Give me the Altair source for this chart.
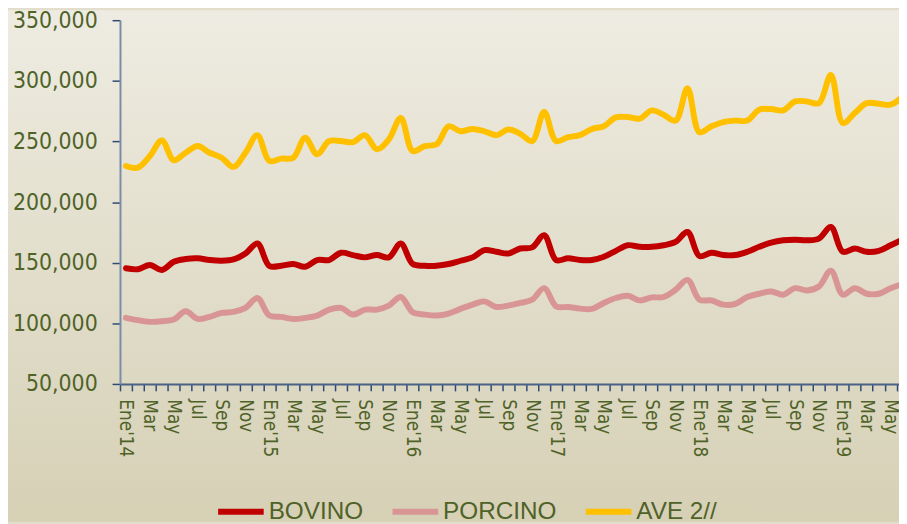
import json
import pandas as pd
import altair as alt

# ---------------- data ----------------
series_names = ["BOVINO", "PORCINO", "AVE 2//"]
series_colors = ["#C00000", "#D99594", "#FFC000"]

month_names = ["Ene", "Feb", "Mar", "Abr", "May", "Jun", "Jul", "Ago", "Sep", "Oct", "Nov", "Dic"]
years = ["14", "15", "16", "17", "18", "19"]

bovino = [145400, 144600, 148100, 144000, 150800, 153000, 153600, 152200, 151600, 152700, 157600, 165800,
          147300, 147500, 148900, 146700, 152200, 152200, 158200, 156300, 154400, 156300, 154400, 165800,
          148900, 147500, 147500, 148900, 151600, 154400, 160300, 159000, 157600, 161700, 162600, 172600,
          152200, 153600, 152200, 152200, 154900, 159800, 164400, 163100, 163100, 164400, 167100, 175300,
          155400, 158200, 156300, 156300, 159000, 163100, 166600, 168500, 169000, 168500, 169900, 179400,
          159000, 161700, 159000, 159800, 164400, 169000]

porcino = [104500, 102600, 101200, 101700, 103100, 109900, 103600, 105300, 108600, 109400, 112700, 120900,
           106400, 105300, 103600, 104500, 106400, 111300, 112700, 107200, 111300, 111300, 114600, 121700,
           109100, 107200, 106400, 108000, 111900, 115400, 118100, 113500, 114600, 116800, 119500, 129000,
           114000, 113500, 112100, 111900, 116800, 120900, 122700, 118900, 121400, 121700, 127700, 135800,
           119500, 118900, 115400, 116000, 121700, 124400, 126300, 123600, 129000, 127100, 130400, 143400,
           123600, 129000, 124400, 124400, 129000, 132500]

ave = [229800, 228400, 238000, 250800, 234500, 240700, 246200, 240700, 236600, 229000, 240700, 255200,
       233900, 235800, 236600, 253000, 239400, 250300, 250300, 249400, 255200, 243500, 251700, 269300,
       242100, 246200, 247600, 262500, 258400, 260300, 258400, 255200, 259800, 256300, 250300, 274300,
       250300, 253500, 255200, 260300, 262500, 269900, 270100, 268800, 275600, 272100, 267200, 293800,
       257600, 262500, 266000, 267200, 267200, 276200, 276700, 275600, 283000, 283000, 281600, 304800,
       265200, 273400, 281600, 281100, 280300, 287000]

y_ticks = [50000, 100000, 150000, 200000, 250000, 300000, 350000]

# x tick labels: every second month, January shows the year
n_months = len(bovino)
x_labels = []
for i in range(n_months):
    m = month_names[i % 12]
    if i % 2 == 1:
        x_labels.append("")
    elif i % 12 == 0:
        x_labels.append(m + "'" + years[i // 12])
    else:
        x_labels.append(m)

rows = []
for name, vals in zip(series_names, [bovino, porcino, ave]):
    for i, v in enumerate(vals):
        rows.append({"idx": i, "serie": name, "valor": v})
df = pd.DataFrame(rows)

# ---------------- layout ----------------
W, H = 786, 367
PAD = {"left": 113, "top": 10, "right": 0, "bottom": 139}
TEXT = "#4F6228"
AXIS_FONT = "DejaVu Sans Condensed, Liberation Sans Narrow, Liberation Sans, sans-serif"

bg = alt.Chart(pd.DataFrame({"k": [0]})).mark_rect(
    fill=alt.Gradient(
        gradient="linear",
        stops=[alt.GradientStop(color="#EEECE2", offset=0),
               alt.GradientStop(color="#D6D0B5", offset=1)],
        x1=0, x2=0, y1=0, y2=1,
    )
).encode(
    x=alt.value(-PAD["left"]), x2=alt.value(W + 20),
    y=alt.value(-PAD["top"]), y2=alt.value(H + PAD["bottom"]),
)

label_expr = json.dumps(x_labels) + "[round(datum.value + 0.5)] || ''"

lines = alt.Chart(df).mark_line(
    strokeWidth=6, interpolate="catmull-rom", strokeCap="round", strokeJoin="round", clip=True
).encode(
    x=alt.X(
        "idx:Q",
        scale=alt.Scale(domain=[-0.5, 64.7], nice=False, zero=False),
        axis=alt.Axis(
            title=None,
            values=[i - 0.5 for i in range(n_months)],
            labelExpr=label_expr,
            labelOffset=6,
            labelAngle=90,
            labelFont=AXIS_FONT,
            labelFontSize=19,
            labelColor=TEXT,
            labelPadding=8,
            labelOverlap=False,
            labelFlush=False,
            tickSize=7,
            tickColor="#2E4A72",
            tickWidth=1.5,
            domainColor="#4A6288",
            domainWidth=2,
            grid=False,
            zindex=1,
        ),
    ),
    y=alt.Y(
        "valor:Q",
        scale=alt.Scale(domain=[50000, 350000], nice=False, zero=False),
        axis=alt.Axis(
            title=None,
            values=y_ticks,
            format=",.0f",
            labelFont=AXIS_FONT,
            labelFontSize=23,
            labelColor=TEXT,
            labelPadding=15,
            tickSize=8,
            tickColor="#2E4A72",
            tickWidth=1.5,
            domainColor="#7A8CA8",
            domainWidth=2,
            grid=False,
            zindex=1,
        ),
    ),
    color=alt.Color(
        "serie:N",
        sort=series_names,
        scale=alt.Scale(domain=series_names, range=series_colors),
        legend=alt.Legend(
            title=None,
            orient="none",
            legendX=96,
            legendY=470,
            direction="horizontal",
            symbolType="stroke",
            symbolStrokeWidth=6,
            symbolSize=2116,
            labelFont="Liberation Sans, Arial, sans-serif",
            labelFontSize=24.5,
            labelColor=TEXT,
            labelOffset=2,
            columnPadding=17,
            padding=0,
            zindex=1,
        ),
    ),
)

chart = alt.layer(bg, lines).properties(
    width=W,
    height=H,
    padding=PAD,
    autosize=alt.AutoSizeParams(type="none"),
    background="#E2DECB",
).configure_view(stroke="transparent")

chart.save("out.html", embed_options={"renderer": "svg", "actions": False})
